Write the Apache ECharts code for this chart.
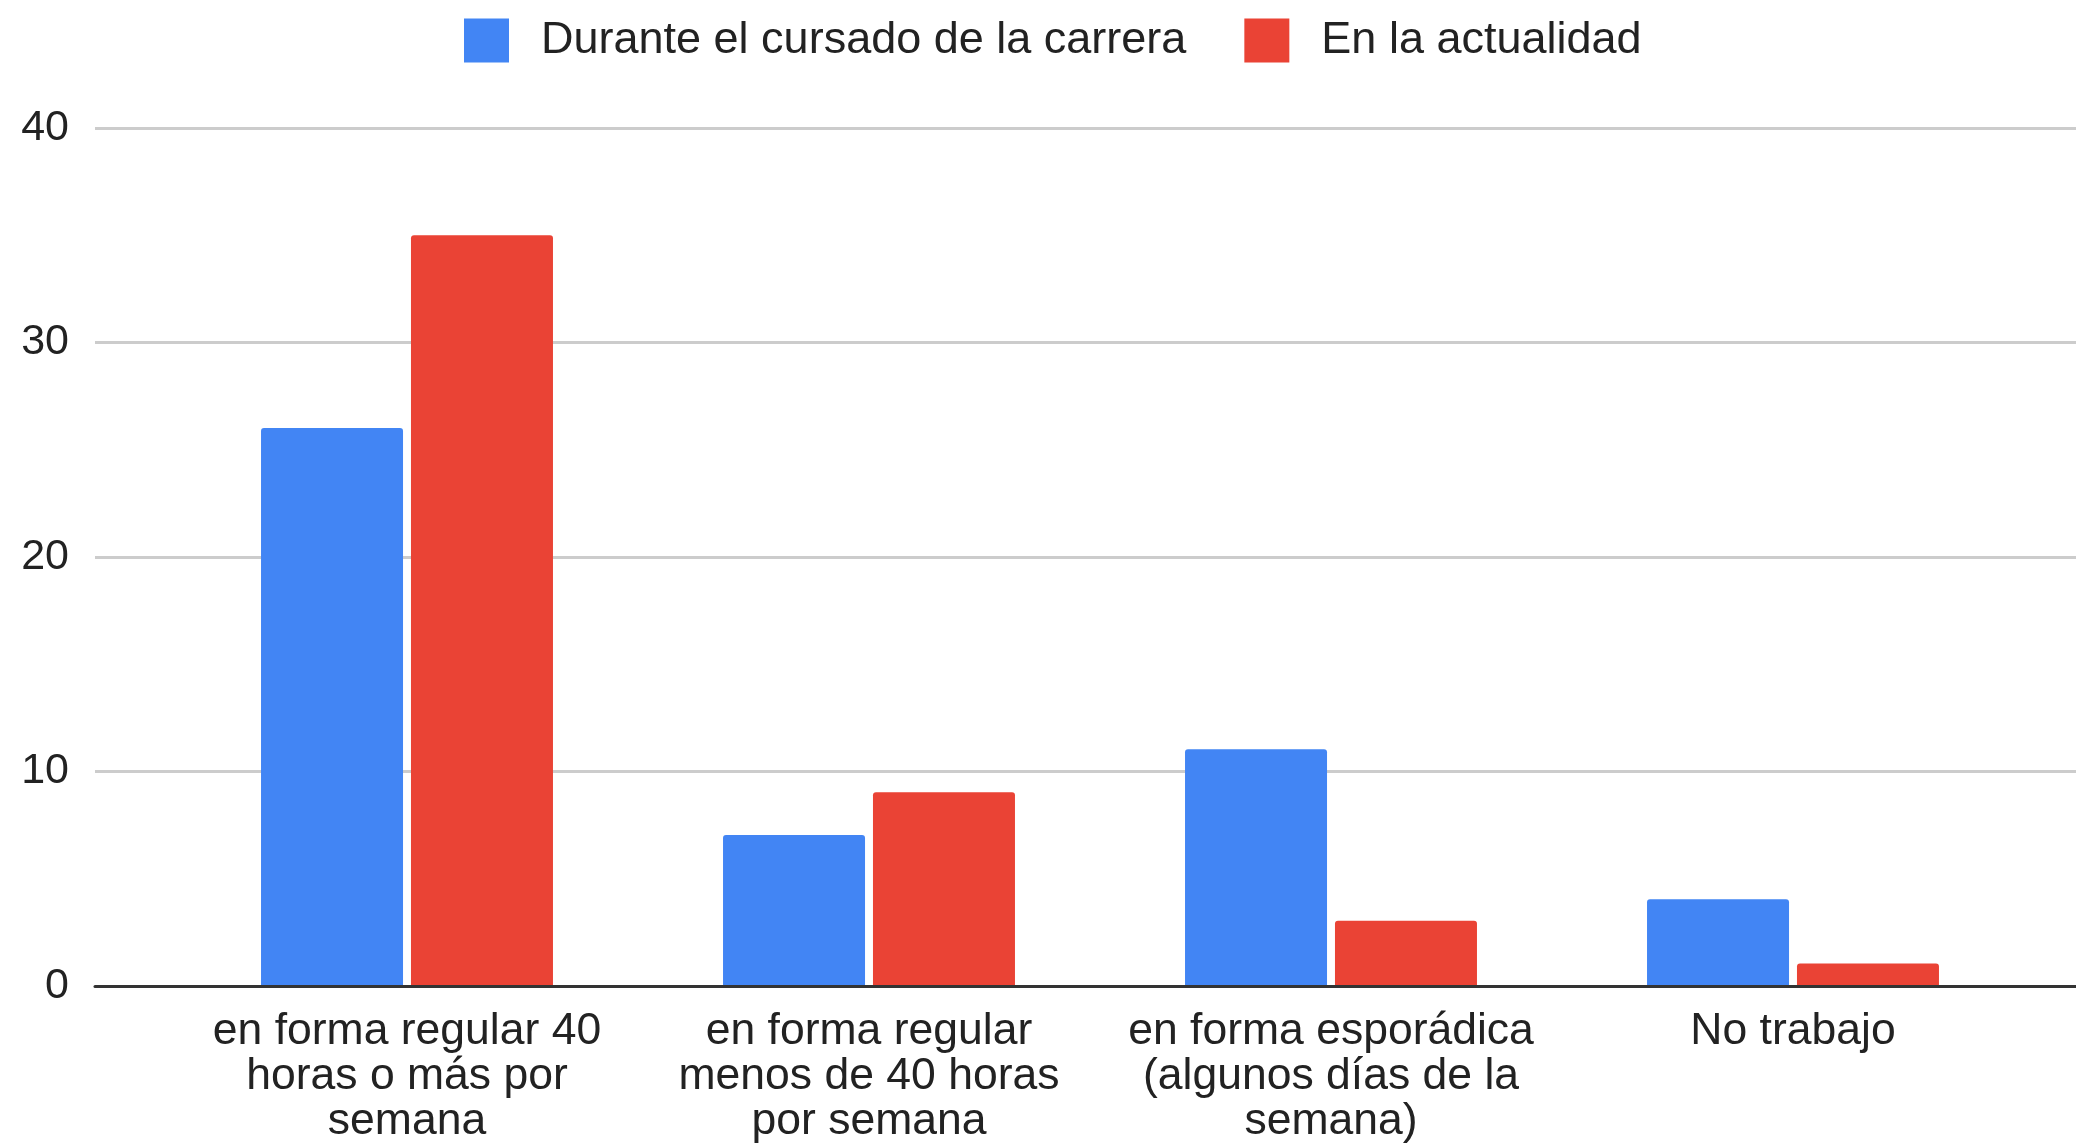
<!DOCTYPE html>
<html>
<head>
<meta charset="utf-8">
<script src="https://cdn.jsdelivr.net/npm/echarts@6/dist/echarts.min.js"></script>
<style>
  html, body { margin: 0; padding: 0; background: #fff; }
  #chart { width: 2076px; height: 1144px; }
</style>
</head>
<body>
<div id="chart"></div>
<script>
const categories = [
  'en forma regular 40\nhoras o más por\nsemana',
  'en forma regular\nmenos de 40 horas\npor semana',
  'en forma esporádica\n(algunos días de la\nsemana)',
  'No trabajo'
];
const seriesNames = ['Durante el cursado de la carrera', 'En la actualidad'];
const duranteValues = [26, 7, 11, 4];
const actualidadValues = [35, 9, 3, 1];
const yTicks = [0, 10, 20, 30, 40];

const font = '"Liberation Sans", Arial, sans-serif';
const colors = ['#4285f4', '#ea4335'];

const chart = echarts.init(document.getElementById('chart'), null, { renderer: 'canvas' });

const option = {
  animation: false,
  textStyle: { fontFamily: font },
  legend: {
    top: 13,
    left: 459,
    itemWidth: 45,
    itemHeight: 44,
    itemGap: 58,
    icon: 'rect',
    textStyle: { fontSize: 45, color: '#222', fontFamily: font, padding: [0, 0, 0, 27] },
    data: seriesNames
  },
  grid: [
    // wide grid: gridlines, y labels and baseline
    { left: 95, right: 0, top: 128, bottom: 158 },
    // bar grid: category bands
    { left: 176, right: 52, top: 128, bottom: 158 }
  ],
  xAxis: [
    {
      gridIndex: 0, type: 'value', min: 0, max: 1,
      axisLine: { show: true, onZero: false, lineStyle: { color: '#333', width: 3 } },
      axisTick: { show: false }, axisLabel: { show: false }, splitLine: { show: false }
    },
    {
      gridIndex: 1, type: 'category', data: categories,
      axisLine: { show: false }, axisTick: { show: false },
      axisLabel: {
        interval: 0, margin: 24, fontSize: 44.5, lineHeight: 45,
        color: '#222', fontFamily: font, align: 'center', verticalAlign: 'top'
      }
    }
  ],
  yAxis: [
    {
      gridIndex: 0, type: 'value', min: yTicks[0], max: yTicks[yTicks.length - 1], interval: 10,
      axisLine: { show: false }, axisTick: { show: false },
      axisLabel: { margin: 26, fontSize: 43, color: '#222', fontFamily: font },
      splitLine: { lineStyle: { color: '#cccccc', width: 3 } }
    },
    {
      gridIndex: 1, type: 'value', min: yTicks[0], max: yTicks[yTicks.length - 1], interval: 10,
      show: false, splitLine: { show: false }
    }
  ],
  series: [
    {
      name: seriesNames[0], type: 'bar', xAxisIndex: 1, yAxisIndex: 1,
      data: duranteValues, barWidth: 142, barGap: '5.6%',
      itemStyle: { color: colors[0], borderRadius: [3, 3, 0, 0] }
    },
    {
      name: seriesNames[1], type: 'bar', xAxisIndex: 1, yAxisIndex: 1,
      data: actualidadValues, barWidth: 142, barGap: '5.6%',
      itemStyle: { color: colors[1], borderRadius: [3, 3, 0, 0] }
    }
  ]
};

chart.setOption(option);
</script>
</body>
</html>
